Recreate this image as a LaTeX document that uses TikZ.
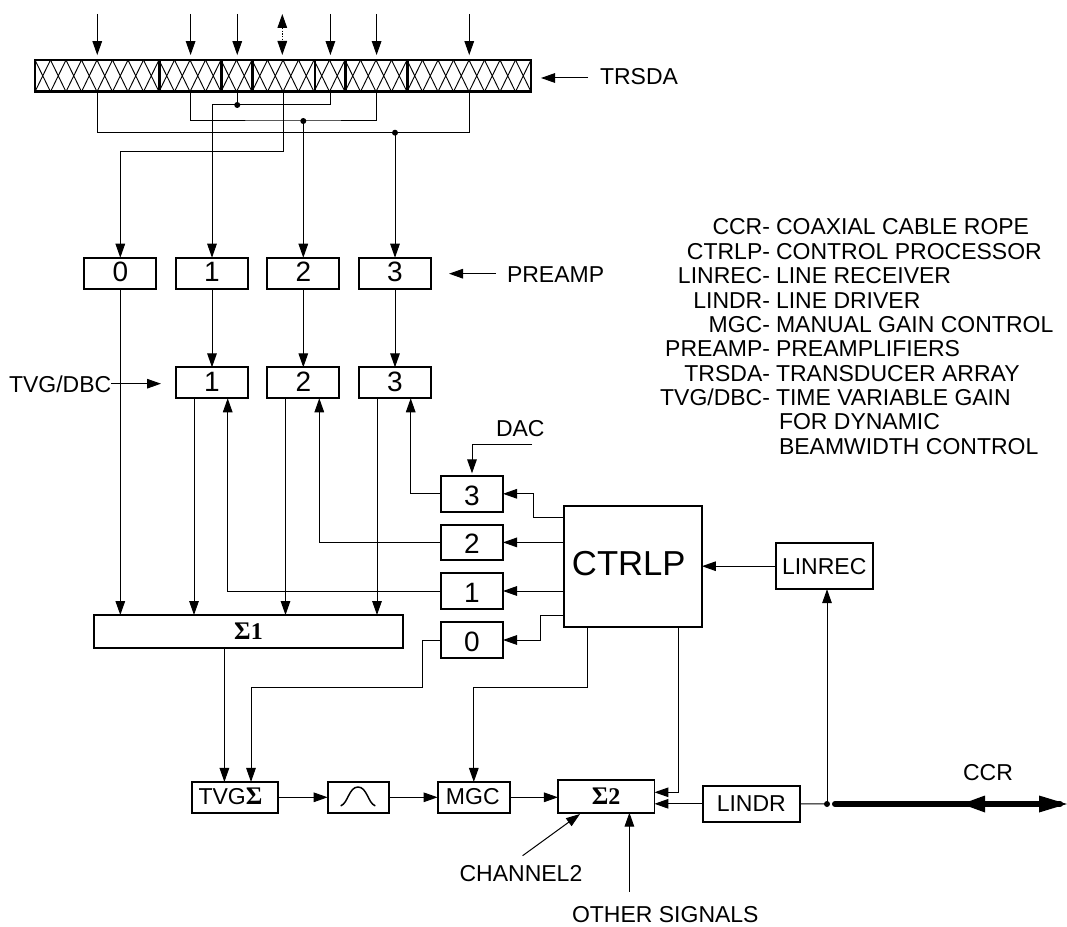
\documentclass[tikz,border=0pt]{standalone}
\usepackage{fontspec}
\setmainfont{Liberation Sans}
\newfontfamily\sigfont{Liberation Serif}[BoldFont={* Bold}]
\newcommand\sgm{{\fontsize{19}{20}\selectfont\sigfont\bfseries Σ}}
\usetikzlibrary{arrows.meta,calc}
\tikzset{
  px/.style={x=0.75pt,y=-0.75pt},
  thin line/.style={line width=0.75pt},
  arr/.style={thin line,-{Triangle[length=10.5pt,width=7.2pt]}},
  box/.style 2 args={draw,line width=1.4pt,inner sep=0pt,outer sep=0pt,
    minimum width=#1*0.75pt,minimum height=#2*0.75pt},
  seg/.style 2 args={draw,line width=2pt,inner sep=0pt,outer sep=0pt,
    minimum width=#1*0.75pt,minimum height=#2*0.75pt},
  lab/.style={font=\fontsize{17.25}{20}\selectfont,inner sep=0pt,outer sep=0pt},
  num/.style={font=\fontsize{21}{24}\selectfont,text depth=2pt},
  dnum/.style={font=\fontsize{21}{24}\selectfont,text height=17pt,text depth=0pt},
  sig/.style={font=\fontsize{18}{20}\selectfont\sigfont\bfseries},
  dot/.style={circle,fill=black,inner sep=0pt,outer sep=0pt,minimum size=6pt*0.75},
  leg/.style={lab,anchor=base east},
  legr/.style={lab,anchor=base west},
}
\begin{document}
\begin{tikzpicture}[px]
\useasboundingbox (0,0) rectangle (1067,927);
% array hatch
\foreach \i in {0,...,31}{
  \draw[line width=0.7pt] ({35+15.5*\i},60) -- ({35+15.5*(\i+1)},91.7) ({35+15.5*(\i+1)},60) -- ({35+15.5*\i},91.7);
}
% array segments
\node[seg={124.5}{31.7}] (seg1) at (97.25,75.85) {};
\node[seg={62.2}{31.7}] (seg2) at (190.6,75.85) {};
\node[seg={31.1}{31.7}] (seg3) at (237.25,75.85) {};
\node[seg={62.2}{31.7}] (seg4) at (283.9,75.85) {};
\node[seg={30.9}{31.7}] (seg5) at (330.4,75.85) {};
\node[seg={61.8}{31.7}] (seg6) at (376.6,75.85) {};
\node[seg={123.5}{31.7}] (seg7) at (469.25,75.85) {};
\foreach \n in {1,2,3,5,6,7}{
  \coordinate (t\n) at (seg\n.north |- 0,14);
  \draw[arr,shorten >=3.7pt] (t\n) -- (seg\n.north);
}
% bidirectional top arrow
\coordinate (t4) at (282.3,14);
\coordinate (t4a) at (282.3,28);
\coordinate (t4b) at (282.3,41);
\coordinate (t4c) at (282.3,55);
\draw[arr] (t4a) -- (t4);
\draw[arr] (t4b) -- (t4c);
\draw[thin line,dash pattern=on 1pt off 1pt] (t4a) -- (t4b);
% TRSDA
\node[lab,anchor=base west] (ltr) at (600,85) {TRSDA};
\coordinate (ltra) at (588,78);
\coordinate (ltrb) at (541,78);
\draw[arr] (ltra) -- (ltrb);
% preamps
\node[box={72}{31},num] (pa0) at (120.3,273.2) {0};
\node[box={72}{31},num] (pa1) at (212,273.2) {1};
\node[box={72}{31},num] (pa2) at (303.3,273.2) {2};
\node[box={72}{31},num] (pa3) at (395,273.2) {3};
\node[lab,anchor=base west] (lpa) at (507,282.7) {PREAMP};
\coordinate (lpaa) at (496,273.7);
\coordinate (lpab) at (449,273.7);
\draw[arr] (lpaa) -- (lpab);
% junctions and wiring
\node[dot] (j1) at (237.25,105) {};
\node[dot] (j2) at (303.3,121) {};
\node[dot] (j3) at (395,132.7) {};
\coordinate (w0) at (120.3,151.7);
\draw[thin line] (seg1.south) |- (j3.center) -| (seg7.south);
\draw[thin line] (seg2.south) |- (j2.center) -| (seg6.south);
\draw[thin line] (seg3.south) -- (j1.center);
\draw[arr] (seg5.south) |- (pa1.north |- j1.center) -- (pa1.north);
\draw[arr] (j2.center) -- (pa2.north);
\draw[arr] (j3.center) -- (pa3.north);
\draw[arr] (seg4.south) |- (w0) -- (pa0.north);
% TVG
\node[box={72}{31},num] (tv1) at (212,382.8) {1};
\node[box={72}{31},num] (tv2) at (303.3,382.8) {2};
\node[box={72}{31},num] (tv3) at (395,382.8) {3};
\draw[arr] (pa1.south) -- (tv1.north);
\draw[arr] (pa2.south) -- (tv2.north);
\draw[arr] (pa3.south) -- (tv3.north);
\node[lab,anchor=base west] (ltv) at (9,392.7) {TVG/DBC};
\coordinate (ltva) at (111,383.7);
\coordinate (ltvb) at (161,383.7);
\draw[arr] (ltva) -- (ltvb);
% sum 1
\node[box={309}{33},sig] (sum1) at (248.5,631.5) {\sgm 1};
\draw[arr] (pa0.south) -- (pa0.south |- sum1.north);
\coordinate (xd1) at (194,0);
\coordinate (xd2) at (285.5,0);
\coordinate (xd3) at (377,0);
\coordinate (xu1) at (227.7,0);
\coordinate (xu2) at (319.3,0);
\coordinate (xu3) at (410.7,0);
\draw[arr] (xd1 |- tv1.south) -- (xd1 |- sum1.north);
\draw[arr] (xd2 |- tv2.south) -- (xd2 |- sum1.north);
\draw[arr] (xd3 |- tv3.south) -- (xd3 |- sum1.north);
% DAC drivers
\node[box={62}{35.6},dnum] (d3) at (472,493.8) {3};
\node[box={62}{35.6},dnum] (d2) at (472,542.4) {2};
\node[box={62}{35.6},dnum] (d1) at (472,591) {1};
\node[box={62}{35.6},dnum] (d0) at (472,640) {0};
\draw[arr] (d3.west) -| (xu3 |- tv3.south);
\draw[arr] (d2.west) -| (xu2 |- tv2.south);
\draw[arr] (d1.west) -| (xu1 |- tv1.south);
\node[lab,anchor=base west] (ldac) at (496,436) {DAC};
\coordinate (dacs) at (532,444);
\draw[arr,shorten >=2pt] (dacs) -| (d3.north);
% control processor
\node[box={138.3}{121},font=\fontsize{26}{30}\selectfont] (cp) at (632.8,566.2) {\raisebox{4pt}{CTRLP}\hspace*{6pt}};
\coordinate (c3) at (533,517.5);
\coordinate (c0) at (540,615);
\draw[arr] (cp.west |- c3) -- (c3) |- (d3.east);
\draw[arr] (cp.west |- d2.east) -- (d2.east);
\draw[arr] (cp.west |- d1.east) -- (d1.east);
\draw[arr] (cp.west |- c0) -- (c0) |- (d0.east);
\node[box={97}{46},lab] (lr) at (824.2,566.2) {LINREC};
\draw[arr] (lr.west) -- (cp.east);
% bottom chain
\node[box={86}{30.7},lab] (tg) at (235,797.3) {\raisebox{1.2pt}{TVG\sgm}\hspace*{6.8pt}};
\node[box={61.3}{30.7}] (fl) at (358.3,797.3) {};
\draw[line width=1.1pt,line cap=round] (341,805.7) .. controls (348,803) and (349,787) .. (358,787) .. controls (367,787) and (368,803) .. (375,805.7);
\node[box={72.4}{30.7},lab] (mg) at (473.8,797.3) {\raisebox{1.2pt}{MGC}\hspace*{1.5pt}};
\node[box={96.5}{32.7},sig] (s2) at (606.2,796.3) {\sgm 2};
\node[box={97}{35.7},lab] (ld) at (751.3,803.8) {LINDR};
\draw[arr] (tg.east) -- (fl.west);
\draw[arr] (fl.east) -- (mg.west);
\draw[arr] (mg.east) -- (s2.west |- mg.east);
\draw[arr] (ld.west) -- (s2.east |- ld.west);
% sum 1 to TVG sum
\coordinate (xs) at (224.4,0);
\coordinate (xt) at (251,0);
\coordinate (c5) at (422,687);
\coordinate (c6) at (587,687);
\coordinate (c7) at (678,792.3);
\draw[arr] (xs |- sum1.south) -- (xs |- tg.north);
\draw[arr] (d0.west) -| (c5) -| (xt |- tg.north);
\draw[arr] (c6 |- cp.south) -- (c6) -| (mg.north);
\draw[arr] (c7 |- cp.south) -- (c7) -- (s2.east |- c7);
% cable
\node[dot] (j4) at (827,804) {};
\draw[thin line] (ld.east) -- (j4.center);
\draw[arr] (j4.center) -- (j4.center |- lr.south);
\coordinate (cb) at (835,804);
\coordinate (ce) at (1067,804);
\draw[line width=4.5pt,line cap=round] (cb) -- (1060,804);
\fill (961.7,804) -- (985,795.5) -- (985,812.5) -- cycle;
\fill (ce) -- (1039,795.5) -- (1039,812.5) -- cycle;
\node[lab,anchor=base] (lcc) at (988,780.7) {CCR};
% inputs of sum 2
\node[lab,anchor=base west] (lch) at (459.6,881.7) {CHANNEL2};
\coordinate (cha) at (522.6,855.7);
\coordinate (chb) at (580,814);
\draw[arr] (cha) -- (chb);
\node[lab,anchor=base west] (lot) at (572,922) {OTHER SIGNALS};
\coordinate (ota) at (629.4,891.7);
\draw[arr] (ota) -- (ota |- s2.south);
% legend
\node[leg] (a1) at (770,235) {CCR-};
\node[legr] (b1) at (776,235) {COAXIAL CABLE ROPE};
\node[leg] (a2) at (770,259.3) {CTRLP-};
\node[legr] (b2) at (776,259.3) {CONTROL PROCESSOR};
\node[leg] (a3) at (770,283.7) {LINREC-};
\node[legr] (b3) at (776,283.7) {LINE RECEIVER};
\node[leg] (a4) at (770,308) {LINDR-};
\node[legr] (b4) at (776,308) {LINE DRIVER};
\node[leg] (a5) at (770,332.7) {MGC-};
\node[legr] (b5) at (776,332.7) {MANUAL GAIN CONTROL};
\node[leg] (a6) at (770,356.7) {PREAMP-};
\node[legr] (b6) at (776,356.7) {PREAMPLIFIERS};
\node[leg] (a7) at (770,381) {TRSDA-};
\node[legr] (b7) at (776,381) {TRANSDUCER ARRAY};
\node[leg] (a8) at (770,405) {TVG/DBC-};
\node[legr] (b8) at (776,405) {TIME VARIABLE GAIN};
\node[legr] (b9) at (779,429.3) {FOR DYNAMIC};
\node[legr] (b10) at (779,454) {BEAMWIDTH CONTROL};
\end{tikzpicture}
\end{document}
